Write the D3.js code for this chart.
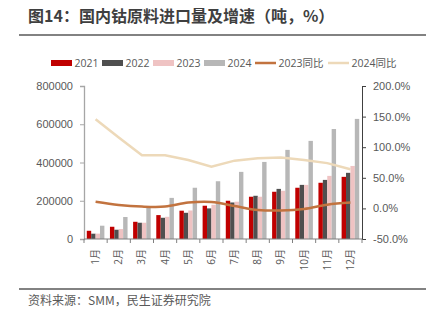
<!DOCTYPE html>
<html>
<head>
<meta charset="utf-8">
<script src="https://cdn.jsdelivr.net/npm/d3@7"></script>
<style>
  body { margin: 0; background: #fff; }
  svg { font-family: "Open Sans", "Noto Sans CJK SC", sans-serif; }
</style>
</head>
<body>
<script>
"use strict";
(function(){
    // data
    const months = ["1月","2月","3月","4月","5月","6月","7月","8月","9月","10月","11月","12月"];
    const v2021 = [43000,64000,90000,125000,148000,174000,200000,221000,247000,268000,294000,325000];
    const v2022 = [27700,48500,85000,111000,137000,160000,191000,226000,262000,283000,309000,346000];
    const v2023 = [28000,52000,85000,116000,149000,179000,195000,221000,252000,283000,330000,382000];
    const v2024 = [69500,115000,167000,215000,268000,302000,351000,403000,466000,513000,575000,628000];
    const yoy2023 = [11,5.7,3,3,9.5,10.5,4,-2.5,-3.5,-1,6,9.5];
    const yoy2024 = [145.5,116,87,87,79,68,78,82,83,79,74,64];
    const leftTicks = [0,200000,400000,600000,800000];
    const rightTicks = [-50,0,50,100,150,200];

    const barSeries = [
        {name: "2021", values: v2021, color: "#c00000"},
        {name: "2022", values: v2022, color: "#4f4f4f"},
        {name: "2023", values: v2023, color: "#efc3c3"},
        {name: "2024", values: v2024, color: "#b7b7b7"}
    ];
    const lineSeries = [
        {name: "2023同比", values: yoy2023, color: "#c2733f", curve: d3.curveCatmullRom},
        {name: "2024同比", values: yoy2024, color: "#edd9b9", curve: d3.curveLinear}
    ];

    const measurements = {
        width: 426,
        height: 321,
        left: 84,
        right: 362,
        top: 86,
        bottom: 239
    };

    const svg = d3.select("body").append("svg")
        .attr("width", measurements.width)
        .attr("height", measurements.height);

    // title
    svg.append("text")
        .attr("x", 28).attr("y", 21.5)
        .style("font-family", "'Noto Sans CJK SC', sans-serif")
        .style("font-size", "16px")
        .style("font-weight", "bold")
        .attr("fill", "#3f3f3f")
        .text("图14：国内钴原料进口量及增速（吨，%）");
    svg.append("line")
        .attr("x1", 19).attr("x2", 426).attr("y1", 35).attr("y2", 35)
        .attr("stroke", "#595959").attr("stroke-width", 1.5);

    // scales
    const x0 = d3.scaleBand()
        .domain(months)
        .range([measurements.left, measurements.right])
        .paddingInner(0.24)
        .paddingOuter(0.12);
    const x1 = d3.scaleBand()
        .domain(barSeries.map(s => s.name))
        .range([0, x0.bandwidth()]);
    const yL = d3.scaleLinear().domain([0, 800000]).range([measurements.bottom, measurements.top]);
    const yR = d3.scaleLinear().domain([-50, 200]).range([measurements.bottom, measurements.top]);

    // bars
    barSeries.forEach(function(s) {
        svg.append("g").selectAll("rect")
            .data(s.values)
            .enter()
            .append("rect")
            .attr("x", (d, i) => x0(months[i]) + x1(s.name))
            .attr("width", x1.bandwidth())
            .attr("y", d => yL(d))
            .attr("height", d => yL(0) - yL(d))
            .attr("fill", s.color);
    });

    // lines
    lineSeries.forEach(function(s) {
        const line = d3.line()
            .x((d, i) => x0(months[i]) + x0.bandwidth() / 2)
            .y(d => yR(d))
            .curve(s.curve);
        svg.append("path")
            .datum(s.values)
            .attr("d", line)
            .attr("fill", "none")
            .attr("stroke", s.color)
            .attr("stroke-width", 2.5);
    });

    // left axis
    const leftAxis = svg.append("g")
        .attr("transform", "translate(" + measurements.left + ",0)")
        .call(d3.axisLeft(yL).tickValues(leftTicks).tickSize(4).tickPadding(7).tickFormat(d3.format("d")));
    leftAxis.select(".domain").attr("stroke", "#a6a6a6").attr("stroke-width", 1.3);
    leftAxis.selectAll(".tick line").attr("stroke", "#a6a6a6");
    leftAxis.selectAll("text")
        .style("font-size", "11px").attr("fill", "#595959");

    // right axis
    const rightAxis = svg.append("g")
        .attr("transform", "translate(" + measurements.right + ",0)")
        .call(d3.axisRight(yR).tickValues(rightTicks).tickSize(4).tickPadding(7)
            .tickFormat(d => d.toFixed(1) + "%"));
    rightAxis.select(".domain").attr("stroke", "#404040");
    rightAxis.selectAll(".tick line").attr("stroke", "#404040");
    rightAxis.selectAll("text")
        .style("font-size", "11px").attr("fill", "#595959");

    // bottom axis with ticks between months
    const bottom = svg.append("g");
    bottom.append("line")
        .attr("x1", measurements.left).attr("x2", measurements.right)
        .attr("y1", yL(0)).attr("y2", yL(0))
        .attr("stroke", "#808080").attr("stroke-width", 1.2);
    bottom.selectAll(".mtick")
        .data(d3.range(months.length + 1))
        .enter()
        .append("line")
        .attr("x1", i => x0.range()[0] + i * x0.step())
        .attr("x2", i => x0.range()[0] + i * x0.step())
        .attr("y1", yL(0)).attr("y2", yL(0) + 4)
        .attr("stroke", "#808080");
    bottom.selectAll(".mlabel")
        .data(months)
        .enter()
        .append("text")
        .attr("transform", d => "translate(" + (x0(d) + x0.bandwidth() / 2 + 3.5) + "," + (yL(0) + 10) + ")rotate(-90)")
        .attr("text-anchor", "end")
        .style("font-size", "10px")
        .attr("fill", "#595959")
        .text(d => d);

    // legend
    const legendItems = barSeries.map(s => ({name: s.name, color: s.color, type: "bar"}))
        .concat(lineSeries.map(s => ({name: s.name, color: s.color, type: "line"})));
    const legendX = [51, 102, 153, 204, 255, 328];
    const legend = svg.append("g");
    legendItems.forEach(function(d, i) {
        const g = legend.append("g").attr("transform", "translate(" + legendX[i] + ",63)");
        if (d.type === "bar") {
            g.append("rect").attr("x", 0).attr("y", -3).attr("width", 21).attr("height", 6).attr("fill", d.color);
        } else {
            g.append("line").attr("x1", 0).attr("x2", 21).attr("y1", 0).attr("y2", 0)
                .attr("stroke", d.color).attr("stroke-width", 2.5);
        }
        g.append("text")
            .attr("x", 23.5).attr("y", 0)
            .attr("dy", "0.35em")
            .style("font-size", "10.5px")
            .attr("fill", "#595959")
            .text(d.name);
    });

    // source
    svg.append("line")
        .attr("x1", 19).attr("x2", 426).attr("y1", 289).attr("y2", 289)
        .attr("stroke", "#595959").attr("stroke-width", 1.5);
    svg.append("text")
        .attr("x", 28).attr("y", 305)
        .style("font-family", "'Noto Sans CJK SC', sans-serif")
        .style("font-size", "12px")
        .attr("fill", "#595959")
        .text("资料来源：SMM，民生证券研究院");
})()
</script>
</body>
</html>
